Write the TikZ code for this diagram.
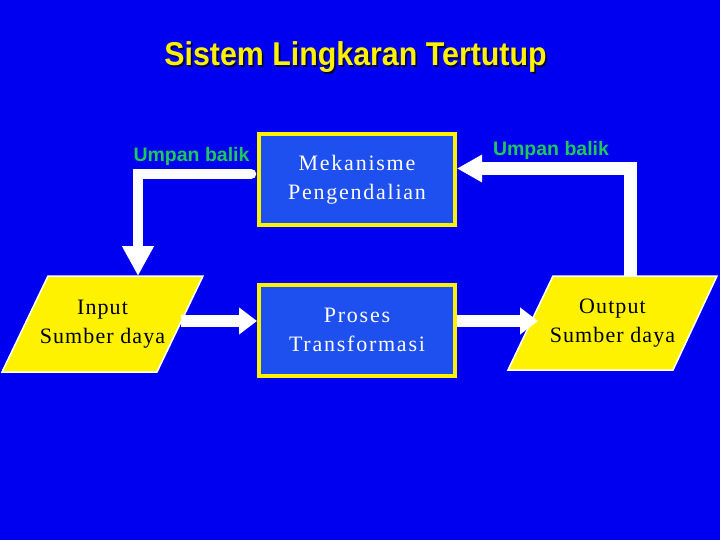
\documentclass[tikz,border=0pt]{standalone}
\usepackage{fontspec}
\setmainfont{Liberation Serif}
\newfontfamily\arialfont{Liberation Sans}
\newfontfamily\boxfont[LetterSpace=5]{Liberation Serif}
\newfontfamily\mekfont[LetterSpace=8]{Liberation Serif}
\usetikzlibrary{arrows.meta}
\definecolor{bgblue}{RGB}{0,0,240}
\definecolor{boxblue}{RGB}{30,80,240}
\definecolor{lblgreen}{RGB}{30,200,90}
\definecolor{shadowc}{RGB}{0,0,70}
\tikzset{
  procbox/.style={draw=yellow, line width=4pt, fill=boxblue, minimum width=196pt, minimum height=91pt,
    text=white, align=center, font=\mekfont\fontsize{22}{29}\selectfont},
  ioshape/.style={draw=white, line width=1.5pt, fill=yellow, line join=miter},
  iotext/.style={inner sep=0pt, text=black, align=center, font=\boxfont\fontsize{22}{29}\selectfont},
  flowarrow/.style={draw=white, line width=12pt, -{Triangle[length=18pt,width=26pt]}},
  fbleft/.style={draw=white, line width=10.5pt, line cap=round, -{Triangle[length=30pt,width=30pt]}},
  fbright/.style={draw=white, line width=13pt, -{Triangle[length=25pt,width=26pt]}},
  fblabel/.style={text=lblgreen, font=\arialfont\bfseries\fontsize{19.5}{22}\selectfont, inner sep=0pt},
  titletext/.style={anchor=base, text=yellow, font=\arialfont\bfseries\fontsize{33}{36}\selectfont, xscale=0.92, inner sep=0pt},
}
\newcommand{\shadowtext}[1]{\rlap{\kern2pt\raisebox{-2pt}{\textcolor{shadowc}{#1}}}#1}
\begin{document}
\begin{tikzpicture}[x=1pt,y=-1pt]
\fill[bgblue] (0,0) rectangle (720,540);
\useasboundingbox (0,0) rectangle (720,540);
% title
\node[titletext] (title) at (355.5,66) {\shadowtext{Sistem Lingkaran Tertutup}};
% parallelogram corners
\coordinate (inBL) at (2,372);
\coordinate (inBR) at (157,372);
\coordinate (inTR) at (203,276);
\coordinate (inTL) at (48,276);
\coordinate (outBL) at (508,370);
\coordinate (outBR) at (673,370);
\coordinate (outTR) at (717,276);
\coordinate (outTL) at (553,276);
\filldraw[ioshape] (inBL) -- (inBR) -- (inTR) -- (inTL) -- cycle;
\filldraw[ioshape] (outBL) -- (outBR) -- (outTR) -- (outTL) -- cycle;
\node[iotext] (in) at (102.5,324) {Input\\Sumber daya};
\node[iotext] (out) at (612.5,323) {Output\\Sumber daya};
% connection points on the parallelograms
\coordinate (inR) at (181,321);
\coordinate (outL) at (538,321);
\coordinate (inTop) at (138,276);
\coordinate (outTop) at (630.5,276);
% boxes
\node[procbox] (mek) at (357,179.5) {Mekanisme\\Pengendalian};
\node[procbox] (pro) at (357,330) {Proses\\Transformasi};
% flow arrows
\draw[flowarrow] (inR) -- (inR -| pro.west);
\draw[flowarrow] ([yshift=9pt]pro.east) -- (outL);
% feedback arrows
\draw[fbleft] ([xshift=-6pt,yshift=5.5pt]mek.west) -| (inTop);
\draw[fbright] (outTop) |- ([yshift=11pt]mek.east);
% labels
\node[fblabel] (lblL) at (191.5,156.5) {Umpan balik};
\node[fblabel] (lblR) at (551,150) {Umpan balik};
\end{tikzpicture}
\end{document}
